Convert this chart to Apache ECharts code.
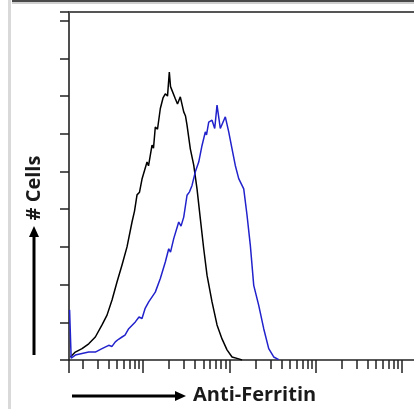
<!DOCTYPE html>
<html>
<head>
<meta charset="utf-8">
<script src="https://cdn.jsdelivr.net/npm/echarts@6/dist/echarts.min.js"></script>
<style>
  html, body { margin: 0; padding: 0; background: #ffffff; }
  #chart { width: 414px; height: 409px; }
</style>
</head>
<body>
<div id="chart"></div>
<script>
// Axis extents (fluorescence intensity, log scale) and counts
var xMin = 1.388;
var xMax = 13800;
var yMax = 9.23;

// Tick values (no labels in the reference)
var minorTicks = [2, 3, 4, 5, 6, 7, 8, 9,
                  20, 30, 40, 50, 60, 70, 80, 90,
                  200, 300, 400, 500, 600, 700, 800, 900,
                  2000, 3000, 4000, 5000, 6000, 7000, 8000, 9000];
var majorTicks = [1.388, 10, 100, 1000, 10000];

// Isotype control (black)
var controlX = [1.438, 1.643, 1.965, 2.349, 2.802, 3.349, 3.828, 4.374, 4.996, 5.710,
                6.525, 7.458, 7.97, 8.522, 9.11, 9.736, 11.13, 11.58, 12.72, 13.23,
                13.88, 14.72, 15.87, 17.05, 18.13, 19.23, 20.17, 20.83, 21.68, 23.68,
                25.10, 27.05, 29.63, 31.08, 32.35, 35.33, 38.69, 42.24, 46.13, 50.51,
                55.15, 63.04, 72.04, 82.31, 94.04, 107.5, 128.5, 140.4];
var controlY = [0.08, 0.21, 0.30, 0.43, 0.61, 0.93, 1.19, 1.59, 2.07, 2.52,
                3.00, 3.66, 3.95, 4.38, 4.45, 4.80, 5.25, 5.15, 5.70, 5.62,
                6.18, 6.12, 6.67, 6.95, 7.06, 7.00, 7.64, 7.25, 7.20, 6.93,
                6.79, 6.98, 6.58, 6.47, 6.23, 5.60, 5.17, 4.54, 3.75, 2.95,
                2.25, 1.54, 0.93, 0.56, 0.27, 0.08, 0.03, 0.00];

// Anti-Ferritin (blue)
var ferritinX = [1.41, 1.47, 1.643, 1.965, 2.349, 2.802, 3.349, 4.004, 4.374, 4.775,
                 5.20, 5.710, 6.185, 6.829, 8.144, 8.99, 9.736, 10.55, 11.64, 13.88,
                 15.87, 18.13, 19.86, 20.83, 22.69, 25.93, 27.56, 29.63, 32.35, 34.58,
                 36.97, 40.36, 44.20, 48.28, 52.72, 54.42, 57.73, 63.04, 67.74, 72.04,
                 78.65, 89.88, 98.41, 107.5, 117.3, 128.5, 146.9, 160.4, 175.2, 191.8,
                 219.1, 250.4, 286.2, 327.0, 373.7];
var ferritinY = [1.33, 0.05, 0.13, 0.17, 0.21, 0.21, 0.30, 0.39, 0.36, 0.48,
                 0.55, 0.61, 0.66, 0.83, 1.01, 1.14, 1.10, 1.36, 1.54, 1.80,
                 2.16, 2.60, 2.95, 2.86, 3.22, 3.66, 3.55, 3.79, 4.37, 4.46,
                 4.63, 4.99, 5.25, 5.69, 6.05, 5.97, 6.31, 6.36, 6.14, 6.76,
                 6.14, 6.45, 6.05, 5.60, 5.16, 4.81, 4.54, 3.84, 3.04, 1.98,
                 1.45, 0.83, 0.30, 0.08, 0.01];

function zip(xs, ys) {
  var out = [];
  for (var i = 0; i < xs.length; i++) out.push([xs[i], ys[i]]);
  return out;
}

var chart = echarts.init(document.getElementById('chart'), null, { renderer: 'canvas' });

var baseX = {
  type: 'log', logBase: 10, min: xMin, max: xMax,
  gridIndex: 0,
  axisLabel: { show: false },
  splitLine: { show: false },
  minorTick: { show: false }
};

chart.setOption({
  animation: false,
  backgroundColor: '#ffffff',
  grid: { left: 69, right: 0, top: 12, bottom: 49, outerBoundsMode: 'none' },
  xAxis: [
    Object.assign({}, baseX, {
      position: 'bottom',
      axisLine: { show: true, lineStyle: { color: '#222', width: 1.6 } },
      axisTick: { show: true, inside: false, length: 9, customValues: minorTicks,
                  lineStyle: { color: '#222', width: 1.5 } }
    }),
    Object.assign({}, baseX, {
      position: 'bottom',
      axisLine: { show: false },
      axisTick: { show: true, inside: false, length: 13, customValues: majorTicks,
                  lineStyle: { color: '#222', width: 1.5 } }
    }),
    Object.assign({}, baseX, {
      position: 'top',
      axisLine: { show: true, lineStyle: { color: '#555', width: 2 } },
      axisTick: { show: false }
    })
  ],
  yAxis: {
    type: 'value', min: 0, max: yMax, interval: 1,
    axisLine: { show: true, lineStyle: { color: '#222', width: 1.6 } },
    axisTick: { show: true, inside: false, length: 9, lineStyle: { color: '#222', width: 1.5 } },
    axisLabel: { show: false },
    splitLine: { show: false }
  },
  series: [
    {
      type: 'line', xAxisIndex: 0, data: zip(controlX, controlY),
      showSymbol: false, symbol: 'none',
      lineStyle: { color: '#000000', width: 1.5 }, z: 3
    },
    {
      type: 'line', xAxisIndex: 0, data: zip(ferritinX, ferritinY),
      showSymbol: false, symbol: 'none',
      lineStyle: { color: '#2222cc', width: 1.5 }, z: 4
    }
  ],
  graphic: [
    { type: 'rect', shape: { x: 8, y: 0, width: 3, height: 409 }, style: { fill: '#d9d9d9' }, silent: true },
    { type: 'rect', shape: { x: 12, y: 0, width: 402, height: 2 }, style: { fill: '#4a4a4a' }, silent: true },
    { type: 'rect', shape: { x: 12, y: 2, width: 402, height: 2 }, style: { fill: '#cfcfcf' }, silent: true },
    // Y arrow
    { type: 'line', shape: { x1: 34, y1: 355, x2: 34, y2: 236 }, style: { stroke: '#000', lineWidth: 3 }, silent: true },
    { type: 'polygon', shape: { points: [[34, 226], [29, 237], [39, 237]] }, style: { fill: '#000' }, silent: true },
    { type: 'text', x: 34, y: 188, rotation: Math.PI / 2,
      style: { text: '# Cells', fill: '#1a1a1a', font: 'bold 20px "Open Sans", sans-serif',
               align: 'center', verticalAlign: 'middle' }, silent: true },
    // X arrow
    { type: 'line', shape: { x1: 72, y1: 396, x2: 176, y2: 396 }, style: { stroke: '#000', lineWidth: 3 }, silent: true },
    { type: 'polygon', shape: { points: [[186, 396], [175, 391], [175, 401]] }, style: { fill: '#000' }, silent: true },
    { type: 'text', x: 193, y: 395,
      style: { text: 'Anti-Ferritin', fill: '#1a1a1a', font: 'bold 20px "Open Sans", sans-serif',
               align: 'left', verticalAlign: 'middle' }, silent: true }
  ]
});
</script>
</body>
</html>
